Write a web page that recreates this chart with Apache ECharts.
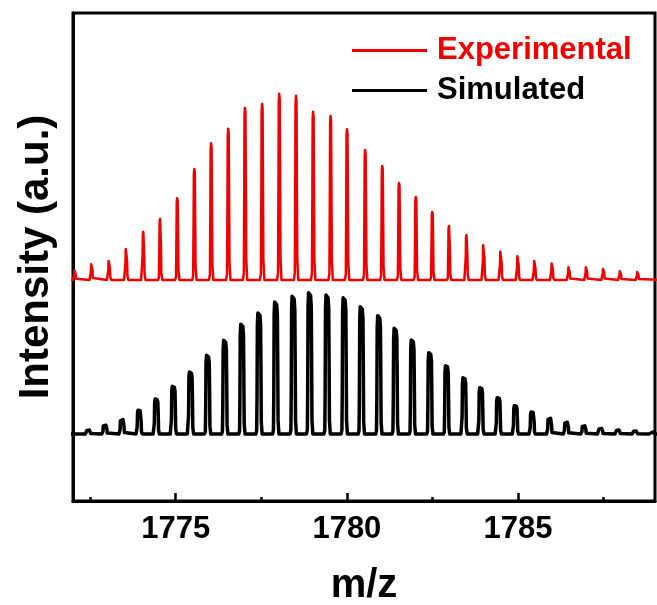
<!DOCTYPE html>
<html>
<head>
<meta charset="utf-8">
<script src="https://cdn.jsdelivr.net/npm/echarts@6/dist/echarts.min.js"></script>
<style>html,body{margin:0;padding:0;background:#fff}#c{width:657px;height:605px}</style>
</head>
<body>
<div id="c"></div>
<script>
// m/z axis range and tick labels
var xMin = 1772, xMax = 1789;
var majorTicks = [1775, 1780, 1785];
var minorTicks = [1772.5, 1777.5, 1782.5, 1787.5];

// Experimental peaks (m/z, intensity a.u.)
var expMz = [1772.06, 1772.55, 1773.06, 1773.56, 1774.06, 1774.55, 1775.05, 1775.55, 1776.04, 1776.54,
             1777.03, 1777.53, 1778.03, 1778.52, 1779.02, 1779.53, 1780.01, 1780.54, 1781.04, 1781.53,
             1782.02, 1782.50, 1782.99, 1783.50, 1784.00, 1784.50, 1785.00, 1785.49, 1786.00, 1786.49,
             1787.00, 1787.50, 1787.99, 1788.50];
var expInt = [10, 16.5, 20, 32.7, 48.3, 61, 81.7, 111, 136.7, 151.3,
              172, 176, 186.3, 184.3, 168.3, 164, 150.7, 130, 114, 97,
              83, 68, 54, 45, 36.7, 30, 25, 20, 17.3, 13.3,
              13.3, 11.7, 9.3, 8.3];

// Simulated peaks (m/z, intensity a.u.)
var simMz = [1772.46, 1772.94, 1773.44, 1773.94, 1774.44, 1774.94, 1775.44, 1775.94, 1776.44, 1776.94,
             1777.44, 1777.93, 1778.44, 1778.92, 1779.43, 1779.93, 1780.43, 1780.94, 1781.42, 1781.92,
             1782.43, 1782.92, 1783.43, 1783.92, 1784.43, 1784.93, 1785.42, 1785.93, 1786.42, 1786.93,
             1787.42, 1787.93, 1788.43, 1788.92];
var simInt = [4, 9, 14.7, 23.7, 35, 47.7, 62, 78.7, 93.7, 109.7,
              121, 132, 137.7, 141.3, 139, 136.3, 127.3, 118.3, 105.7, 94,
              81.3, 68.3, 56.3, 46.3, 36.3, 28.3, 22, 16, 12, 8.3,
              5.7, 4, 3, 2];

// vertical stacking offsets of the two traces
var expOffset = 221, simOffset = 67;
var yMin = 0, yMax = 488;

// peak profile (shape) templates: [dx in m/z, fraction of peak height]
var expProfile = [[-0.07,0],[-0.04,0.04],[-0.028,0.5],[-0.02,0.95],[-0.008,1],[0.008,0.97],[0.018,0.6],[0.03,0.12],[0.06,0]];
var simProfile = [[-0.1,0],[-0.075,0.03],[-0.065,0.3],[-0.055,0.9],[-0.04,1],[0.02,0.98],[0.04,0.9],[0.05,0.55],[0.06,0.1],[0.085,0]];

function buildTrace(mz, inten, offset, profile) {
  var pts = [[xMin - 0.2, offset]];
  for (var i = 0; i < mz.length; i++) {
    for (var j = 0; j < profile.length; j++) {
      pts.push([mz[i] + profile[j][0], offset + inten[i] * profile[j][1]]);
    }
  }
  pts.push([xMax + 0.2, offset]);
  return pts;
}

var font = 'Liberation Sans, Arial, sans-serif';
var red = '#f20000';
var chart = echarts.init(document.getElementById('c'));
chart.setOption({
  animation: false,
  backgroundColor: '#fff',
  grid: { left: 73, right: 2, top: 13, bottom: 104, containLabel: false, outerBoundsMode: 'none',
          show: true, borderColor: '#000', borderWidth: 3, backgroundColor: 'transparent' },
  legend: {
    orient: 'vertical', left: 352, top: 35, padding: 0, itemWidth: 75, itemHeight: 3, itemGap: 9, icon: 'rect',
    textStyle: { fontFamily: font, fontSize: 31, fontWeight: 'bold', padding: [0,0,0,5] },
    data: [
      { name: 'Experimental', textStyle: { color: red } },
      { name: 'Simulated', textStyle: { color: '#000' } }
    ]
  },
  xAxis: [{
    type: 'value', min: xMin, max: xMax, position: 'bottom',
    name: 'm/z', nameLocation: 'middle', nameGap: 65,
    nameTextStyle: { fontFamily: font, fontSize: 40, fontWeight: 'bold', color: '#000' },
    axisLine: { show: true, lineStyle: { color: '#000', width: 3 } },
    axisTick: { show: true, inside: true, length: 8, customValues: majorTicks, lineStyle: { color: '#000', width: 2.5 } },
    axisLabel: { show: true, customValues: majorTicks, margin: 13, fontFamily: font, fontSize: 31, fontWeight: 'bold', color: '#000',
                 formatter: function (v) { return String(v); } },
    splitLine: { show: false }
  }, {
    type: 'value', min: xMin, max: xMax, position: 'bottom',
    axisLine: { show: false },
    axisTick: { show: true, inside: true, length: 4, customValues: minorTicks, lineStyle: { color: '#000', width: 2.5 } },
    axisLabel: { show: false },
    splitLine: { show: false }
  }],
  yAxis: {
    type: 'value', min: yMin, max: yMax,
    name: 'Intensity (a.u.)', nameLocation: 'middle', nameGap: 16,
    nameTextStyle: { fontFamily: font, fontSize: 42, fontWeight: 'bold', color: '#000' },
    axisLine: { show: true, lineStyle: { color: '#000', width: 3 } },
    axisTick: { show: false }, axisLabel: { show: false }, splitLine: { show: false }
  },
  series: [{
    name: 'Experimental', type: 'line', xAxisIndex: 0, showSymbol: false, symbol: 'none',
    color: red,
    lineStyle: { color: red, width: 2.5, join: 'round' },
    data: buildTrace(expMz, expInt, expOffset, expProfile)
  }, {
    name: 'Simulated', type: 'line', xAxisIndex: 0, showSymbol: false, symbol: 'none',
    color: '#000',
    lineStyle: { color: '#000', width: 3.5, join: 'round' },
    data: buildTrace(simMz, simInt, simOffset, simProfile)
  }]
});
</script>
</body>
</html>
